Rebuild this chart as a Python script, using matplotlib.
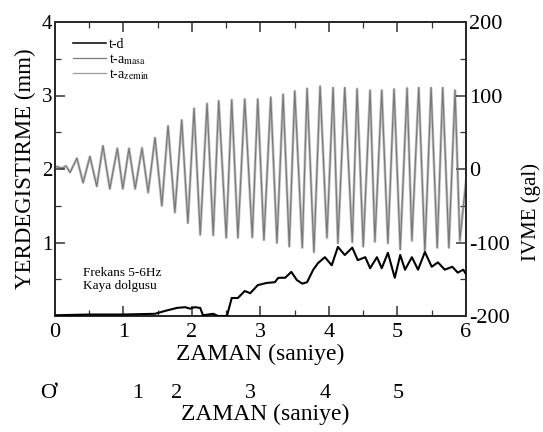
import matplotlib
matplotlib.use("Agg")
import matplotlib.pyplot as plt
from matplotlib.ticker import MultipleLocator
from matplotlib.lines import Line2D

plt.rcParams['font.family'] = ['Liberation Serif', 'DejaVu Serif']
plt.rcParams['mathtext.fontset'] = 'stix'
plt.rcParams['axes.unicode_minus'] = False

# ---- data ----
# acceleration (gal): extrema of the oscillation
acc_t = [0.00, 0.04, 0.10, 0.16, 0.22, 0.32, 0.41, 0.51, 0.61, 0.70, 0.80, 0.91, 0.99,
         1.08, 1.17, 1.27, 1.36, 1.46, 1.56, 1.65, 1.75, 1.85, 1.94, 2.03, 2.12,
         2.22, 2.31, 2.39, 2.50, 2.58, 2.67, 2.77, 2.88, 2.96, 3.05, 3.15, 3.24,
         3.33, 3.42, 3.50, 3.61, 3.68, 3.78, 3.87, 3.97, 4.06, 4.13, 4.23, 4.34,
         4.41, 4.50, 4.60, 4.67, 4.77, 4.86, 4.95, 5.04, 5.14, 5.21, 5.31, 5.40,
         5.49, 5.58, 5.66, 5.75, 5.84, 5.91, 6.00]
acc_masa = [3, 3, 1, 4, -5, 15, -19, 17, -24, 32, -27, 28, -27,
            28, -27, 28, -32, 43, -50, 59, -59, 67, -74, 83, -90,
            89, -90, 93, -94, 94, -94, 95, -93, 95, -97, 98, -101,
            102, -106, 106, -107, 110, -114, 113, -93, 111, -101, 111, -99,
            109, -106, 107, -99, 107, -101, 109, -110, 110, -97, 111, -113,
            111, -107, 111, -107, 107, -97, -16]
acc_zemin = [3, 3, 1, 4, -4, 14, -18, 17, -23, 31, -27, 28, -27,
             28, -27, 29, -32, 42, -50, 58, -59, 66, -73, 82, -89,
             89, -90, 92, -93, 94, -93, 95, -93, 95, -96, 97, -100,
             101, -105, 106, -107, 109, -112, 112, -94, 110, -101, 110, -100,
             109, -105, 107, -99, 107, -101, 108, -109, 110, -98, 110, -112,
             110, -107, 110, -107, 107, -98, -16]

# displacement (mm)
disp_t = [0.00, 0.50, 1.00, 1.46, 1.61, 1.78, 1.90, 1.97, 2.04, 2.12, 2.16, 2.31, 2.38,
          2.51, 2.58, 2.67, 2.77, 2.85, 2.96, 3.09, 3.21, 3.26, 3.36, 3.45, 3.53,
          3.61, 3.68, 3.77, 3.84, 3.94, 4.04, 4.13, 4.23, 4.34, 4.42, 4.53, 4.60,
          4.70, 4.77, 4.86, 4.96, 5.04, 5.11, 5.21, 5.30, 5.40, 5.50, 5.59, 5.69,
          5.80, 5.88, 5.96, 6.00]
disp_mm = [0.01, 0.02, 0.02, 0.03, 0.07, 0.11, 0.12, 0.10, 0.12, 0.11, 0.01, 0.03, 0.00,
           0.00, 0.245, 0.245, 0.34, 0.31, 0.42, 0.45, 0.46, 0.52, 0.52, 0.60, 0.49,
           0.44, 0.46, 0.63, 0.72, 0.80, 0.69, 0.94, 0.83, 0.93, 0.76, 0.80, 0.65,
           0.80, 0.65, 0.86, 0.52, 0.83, 0.63, 0.80, 0.63, 0.87, 0.67, 0.73, 0.63,
           0.67, 0.59, 0.63, 0.57]

x_ticks = [0, 1, 2, 3, 4, 5, 6]
left_ticks = [0, 1, 2, 3, 4]
left_tick_labels = ["", "1", "2", "3", "4"]
right_ticks = [-200, -100, 0, 100, 200]
legend_labels = ["t-d", r"t-a$_{\mathrm{masa}}$", r"t-a$_{\mathrm{zemin}}$"]
note_text = "Frekans 5-6Hz\nKaya dolgusu"
xlabel = "ZAMAN (saniye)"
ylabel_left = "YERDEGISTIRME (mm)"
ylabel_right = "IVME (gal)"
bottom_labels = ["Ơ", "1", "2", "3", "4", "5"]
bottom_pos = [-0.10, 1.21, 1.78, 2.85, 3.94, 5.01]

# ---- figure ----
fig = plt.figure(figsize=(5.43, 4.32), dpi=100)
ax = fig.add_axes([55/543, 1-316/432, (466-55)/543, (316-22)/432])
ax2 = ax.twinx()

ax2.plot(acc_t, acc_zemin, color='#c4c4c4', lw=2.0, zorder=1)
ax2.plot(acc_t, acc_masa, color='#7a7a7a', lw=0.9, zorder=2)
ax.plot(disp_t, disp_mm, color='black', lw=1.5, zorder=3)
ax.set_zorder(ax2.get_zorder() + 1)
ax.patch.set_visible(False)

ax.set_xlim(0, 6)
ax.set_ylim(0, 4)
ax2.set_ylim(-200, 200)
ax.set_xticks(x_ticks)
ax.set_yticks(left_ticks)
ax.set_yticklabels(left_tick_labels)
ax2.set_yticks(right_ticks)
ax.xaxis.set_minor_locator(MultipleLocator(0.5))
ax.yaxis.set_minor_locator(MultipleLocator(0.5))
ax2.yaxis.set_minor_locator(MultipleLocator(50))

ax.tick_params(axis='both', which='both', direction='in', top=True, color='#333333')
ax.tick_params(axis='both', which='major', length=7, width=1.1)
ax.tick_params(axis='both', which='minor', length=4, width=0.9)
ax.tick_params(axis='x', labelsize=16, pad=5)
ax.tick_params(axis='y', labelsize=15, pad=2)
ax2.tick_params(axis='y', which='both', direction='in', color='#333333')
ax2.tick_params(axis='y', which='major', length=7, width=1.1, labelsize=16, pad=2)
ax2.tick_params(axis='y', which='minor', length=4, width=0.9)

for a in (ax, ax2):
    for s in a.spines.values():
        s.set_linewidth(1.4)
        s.set_color('#2a2a2a')

ax.set_xlabel(xlabel, fontsize=17, labelpad=1)
ax.set_ylabel(ylabel_left, fontsize=16.5, labelpad=4)
fig.text(531/543, 1-212/432, ylabel_right, rotation=90, fontsize=15,
         ha='center', va='center')

handles = [Line2D([], [], color='black', lw=1.1),
           Line2D([], [], color='#7a7a7a', lw=0.9),
           Line2D([], [], color='#9a9a9a', lw=0.9)]
ax.legend(handles, legend_labels, loc='upper left', frameon=False,
          fontsize=10, handlelength=2.4, handletextpad=0.2, labelspacing=0.05,
          borderaxespad=0.0, borderpad=0.0, bbox_to_anchor=(0.044, 0.945))

ax.text(0.068, 0.165, note_text, transform=ax.transAxes, fontsize=9.5,
        va='top', ha='left', linespacing=1.05)

# secondary bottom labels row
for lab, pos in zip(bottom_labels, bottom_pos):
    fig.text((55 + pos*68.5)/543, 1-393/432, lab, fontsize=16, ha='center', va='center')
fig.text(265/543, 1-414/432, xlabel, fontsize=17, ha='center', va='center')

fig.savefig("out.png", dpi=100)
